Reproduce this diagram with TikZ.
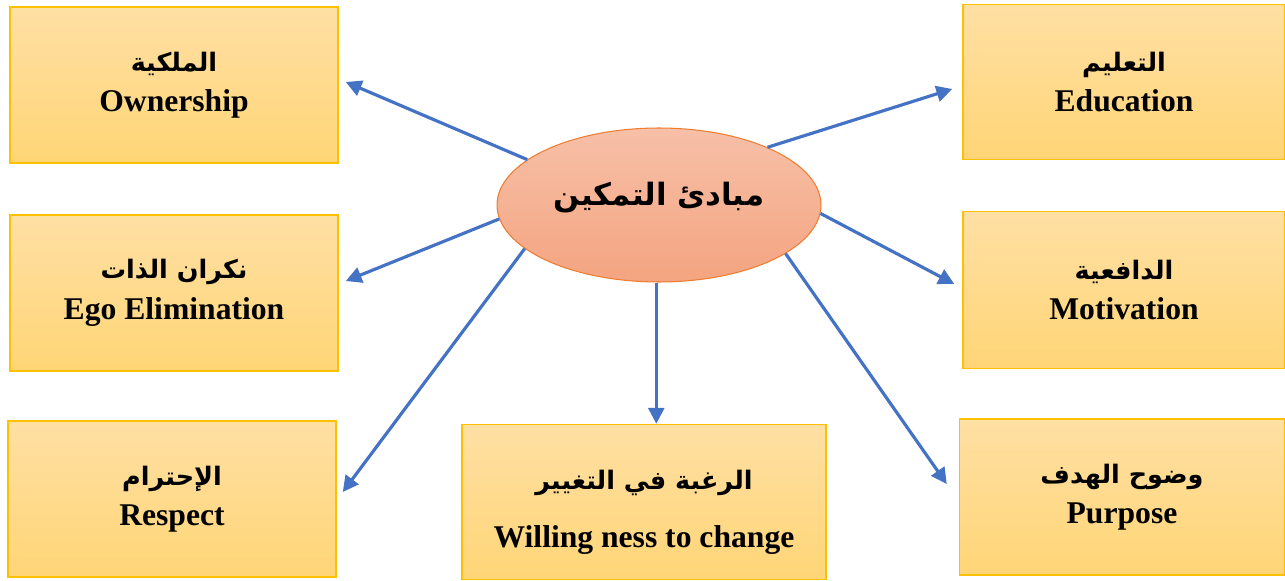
\documentclass[tikz,border=0pt]{standalone}
\usepackage{fontspec}
\setmainfont{Liberation Serif}
\newfontfamily\arabicfont[Script=Arabic]{DejaVu Sans}
\TeXXeTstate=1
\usetikzlibrary{shapes.geometric,arrows.meta}
\definecolor{boxtop}{RGB}{255,224,164}
\definecolor{boxbot}{RGB}{255,213,118}
\definecolor{boxline}{RGB}{255,192,0}
\definecolor{elltop}{RGB}{247,192,168}
\definecolor{ellbot}{RGB}{244,164,128}
\definecolor{ellline}{RGB}{237,125,49}
\definecolor{arrowblue}{RGB}{68,114,196}
\newcommand{\ar}[1]{{\arabicfont\bfseries\fontsize{14.5}{18}\selectfont\beginR #1\endR}}
\begin{document}
\begin{tikzpicture}[x=0.02cm,y=-0.02cm,
  principle/.style={rectangle, draw=boxline, line width=0.9pt,
    top color=boxtop, bottom color=boxbot, align=center, inner sep=0pt,
    font=\bfseries\fontsize{18}{22}\selectfont},
  caption/.style={align=center, inner sep=0pt,
    font=\bfseries\fontsize{18}{22}\selectfont},
  core/.style={ellipse, draw=ellline, line width=0.6pt,
    top color=elltop, bottom color=ellbot, inner sep=0pt,
    minimum width=6.48cm, minimum height=3.08cm},
  link/.style={draw=arrowblue, line width=1.8pt,
    -{Triangle[length=9pt,width=9pt]}}]
\useasboundingbox (0,0) rectangle (1285,581);
\fill[white] (0,0) rectangle (1285,581);

% central ellipse
\node[core] (c) at (659,205) {};
\node[caption] (ctext) at ([yshift=0.14cm]c.center)
  {\arabicfont\bfseries\fontsize{17.5}{22}\selectfont\beginR مبادئ التمكين\endR};

% left column
\node[principle, minimum width=6.56cm, minimum height=3.12cm] (own) at (174,85)
  {\ar{الملكية}\\[1pt] Ownership};
\node[principle, minimum width=6.56cm, minimum height=3.12cm] (ego) at (174,293)
  {\ar{نكران الذات}\\[1pt] Ego Elimination};
\node[principle, minimum width=6.56cm, minimum height=3.12cm] (res) at (172,499)
  {\ar{الإحترام}\\[1pt] Respect};

% bottom centre
\node[principle, minimum width=7.28cm, minimum height=3.10cm] (wil) at (644,502) {};
\node[caption] (wtext) at ([yshift=-0.20cm]wil.center)
  {\ar{الرغبة في التغيير}\\[11pt] Willing ness to change};

% right column
\node[principle, minimum width=6.44cm, minimum height=3.10cm] (edu) at (1124,82)
  {\ar{التعليم}\\[1pt] Education};
\node[principle, minimum width=6.44cm, minimum height=3.14cm] (mot) at (1124,290)
  {\ar{الدافعية}\\[1pt] Motivation};
\node[principle, minimum width=6.50cm, minimum height=3.12cm] (pur) at (1122,497)
  {\ar{وضوح الهدف}\\[1pt] Purpose};

% connectors
\draw[link] (c.161) -- ([shift={(0.14cm,0.06cm)}]own.east);
\draw[link] (c.185) -- ([shift={(0.14cm,0.24cm)}]ego.east);
\draw[link] (c.198) -- ([shift={(0.12cm,0.14cm)}]res.east);
\draw[link] (c.-92) -- (c.-92 |- wil.north);
\draw[link] (c.28) -- ([shift={(-0.20cm,-0.14cm)}]edu.west);
\draw[link] (c.-3) -- ([shift={(-0.16cm,0.12cm)}]mot.west);
\draw[link] (c.-21) -- ([shift={(-0.24cm,0.26cm)}]pur.west);
\end{tikzpicture}
\end{document}
